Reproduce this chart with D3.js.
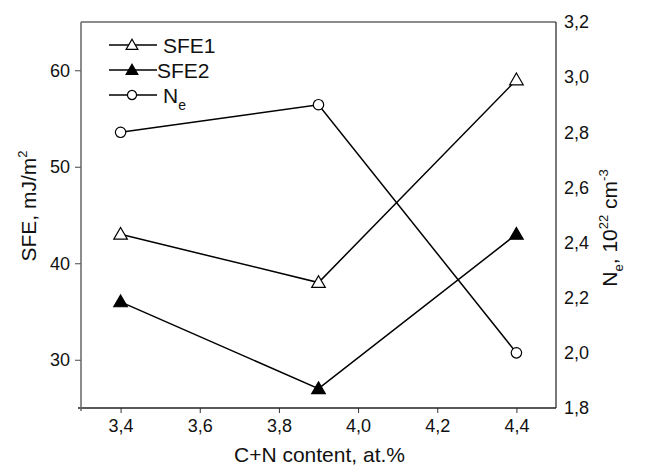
<!DOCTYPE html>
<html>
<head>
<meta charset="utf-8">
<script src="https://cdn.jsdelivr.net/npm/d3@7"></script>
<style>
  body { margin: 0; background: #fff; }
  svg { font-family: "Liberation Sans", Arial, sans-serif; }
</style>
</head>
<body>
<svg id="chart" width="646" height="468"></svg>
<script>
// data
const content = [3.4, 3.9, 4.4];
const sfe1 = [43, 38, 59];
const sfe2 = [36, 27, 43];
const ne = [2.8, 2.9, 2.0];

const xMajor = [3.4, 3.6, 3.8, 4.0, 4.2, 4.4];
const xMinor = [3.3, 3.5, 3.7, 3.9, 4.1, 4.3, 4.5];
const sfeMajor = [30, 40, 50, 60];
const sfeMinor = [35, 45, 55];
const neTicks = [1.8, 2.0, 2.2, 2.4, 2.6, 2.8, 3.0, 3.2];

const plotL = 81, plotR = 556, plotT = 22, plotB = 408;
const FONT = 'Liberation Sans, Arial, sans-serif';

const svg = d3.select('#chart');

const x = d3.scaleLinear().domain([3.3, 4.5]).range([plotL, plotR]);
const yL = d3.scaleLinear().domain([25, 65]).range([plotB, plotT]);
const yR = d3.scaleLinear().domain([1.8, 3.2]).range([plotB, plotT]);

const comma = v => d3.format('.1f')(v).replace('.', ',');

// frame: top and left gray, right black
svg.append('line').attr('x1', plotL).attr('x2', plotR).attr('y1', plotT).attr('y2', plotT)
    .attr('stroke', '#666').attr('stroke-width', 1.5);
svg.append('line').attr('x1', plotR).attr('x2', plotR).attr('y1', plotT).attr('y2', plotB)
    .attr('stroke', '#222').attr('stroke-width', 1.2);

// bottom axis
const gx = svg.append('g').attr('transform', `translate(0,${plotB})`);
gx.call(d3.axisBottom(x).tickValues(xMinor).tickSize(3).tickFormat(''));
gx.call(d3.axisBottom(x).tickValues(xMajor).tickSize(5).tickPadding(6).tickFormat(comma));
gx.selectAll('.domain').remove();
gx.append('line').attr('x1', plotL - 3).attr('x2', plotR).attr('stroke', '#222').attr('stroke-width', 1.5);
gx.attr('font-size', 18).attr('font-family', FONT);
gx.selectAll('text').attr('fill', '#111');
gx.selectAll('.tick line').attr('stroke', '#333');

// left axis
const gy = svg.append('g').attr('transform', `translate(${plotL},0)`);
gy.call(d3.axisLeft(yL).tickValues(sfeMinor).tickSize(3).tickFormat(''));
gy.call(d3.axisLeft(yL).tickValues(sfeMajor).tickSize(6).tickPadding(5).tickFormat(d3.format('d')));
gy.selectAll('.domain').remove();
gy.append('line').attr('y1', plotT).attr('y2', plotB + 3).attr('stroke', '#666').attr('stroke-width', 1.5);
gy.attr('font-size', 18).attr('font-family', FONT);
gy.selectAll('text').attr('fill', '#111');
gy.selectAll('.tick line').attr('stroke', '#444');

// right axis: labels only
const gr = svg.append('g').attr('transform', `translate(${plotR},0)`);
gr.call(d3.axisRight(yR).tickValues(neTicks).tickSize(0).tickPadding(8).tickFormat(comma));
gr.selectAll('.domain').remove();
gr.attr('font-size', 18).attr('font-family', FONT);
gr.selectAll('text').attr('fill', '#111');

// axis titles
svg.append('text').attr('x', (plotL + plotR) / 2 + 1).attr('y', 462)
    .attr('text-anchor', 'middle').attr('font-size', 21).attr('fill', '#111')
    .text('C+N content, at.%');

const tl = svg.append('text').attr('transform', 'translate(36,206) rotate(-90)')
    .attr('text-anchor', 'middle').attr('font-size', 21).attr('fill', '#111');
tl.append('tspan').text('SFE, mJ/m');
tl.append('tspan').attr('dy', -9).attr('font-size', 13).text('2');

const tr = svg.append('text').attr('transform', 'translate(617,228) rotate(-90)')
    .attr('text-anchor', 'middle').attr('font-size', 21).attr('fill', '#111');
tr.append('tspan').text('N');
tr.append('tspan').attr('dy', 6).attr('font-size', 13).text('e');
tr.append('tspan').attr('dy', -6).text(', 10');
tr.append('tspan').attr('dy', -9).attr('font-size', 13).text('22');
tr.append('tspan').attr('dy', 9).text(' cm');
tr.append('tspan').attr('dy', -9).attr('font-size', 13).text('-3');

// series
const series = [
  { name: 'SFE1', values: sfe1, y: yL, shape: d3.symbolTriangle, fill: '#fff' },
  { name: 'SFE2', values: sfe2, y: yL, shape: d3.symbolTriangle, fill: '#000' },
  { name: 'Ne', values: ne, y: yR, shape: d3.symbolCircle, fill: '#fff' }
];

const symbolSize = s => s === d3.symbolCircle ? 85 : 80;

series.forEach(s => {
  const pts = content.map((c, i) => [x(c), s.y(s.values[i])]);
  svg.append('path').datum(pts)
      .attr('d', d3.line())
      .attr('fill', 'none').attr('stroke', '#000').attr('stroke-width', 1.5);
  svg.selectAll(null).data(pts).enter().append('path')
      .attr('transform', d => `translate(${d[0]},${d[1] + (s.shape === d3.symbolTriangle ? 1 : 0)})`)
      .attr('d', d3.symbol().type(s.shape).size(symbolSize(s.shape)))
      .attr('fill', s.fill).attr('stroke', '#000').attr('stroke-width', 1.2);
});

// legend
const legendY = [45, 70, 95];
const legendTextX = [163, 157, 163];
series.forEach((s, i) => {
  const g = svg.append('g').attr('transform', `translate(0,${legendY[i]})`);
  g.append('line').attr('x1', 109).attr('x2', 157).attr('stroke', '#000').attr('stroke-width', 1.5);
  g.append('path').attr('transform', `translate(132,${s.shape === d3.symbolTriangle ? 1 : 0})`)
      .attr('d', d3.symbol().type(s.shape).size(s.shape === d3.symbolCircle ? 65 : 60))
      .attr('fill', s.fill).attr('stroke', '#000').attr('stroke-width', 1.2);
  const t = g.append('text').attr('x', legendTextX[i]).attr('y', 7.5)
      .attr('font-size', 21).attr('fill', '#111');
  if (s.name === 'Ne') {
    t.append('tspan').text('N');
    t.append('tspan').attr('dy', 7).attr('font-size', 14).text('e');
  } else {
    t.text(s.name);
  }
});
</script>
</body>
</html>
